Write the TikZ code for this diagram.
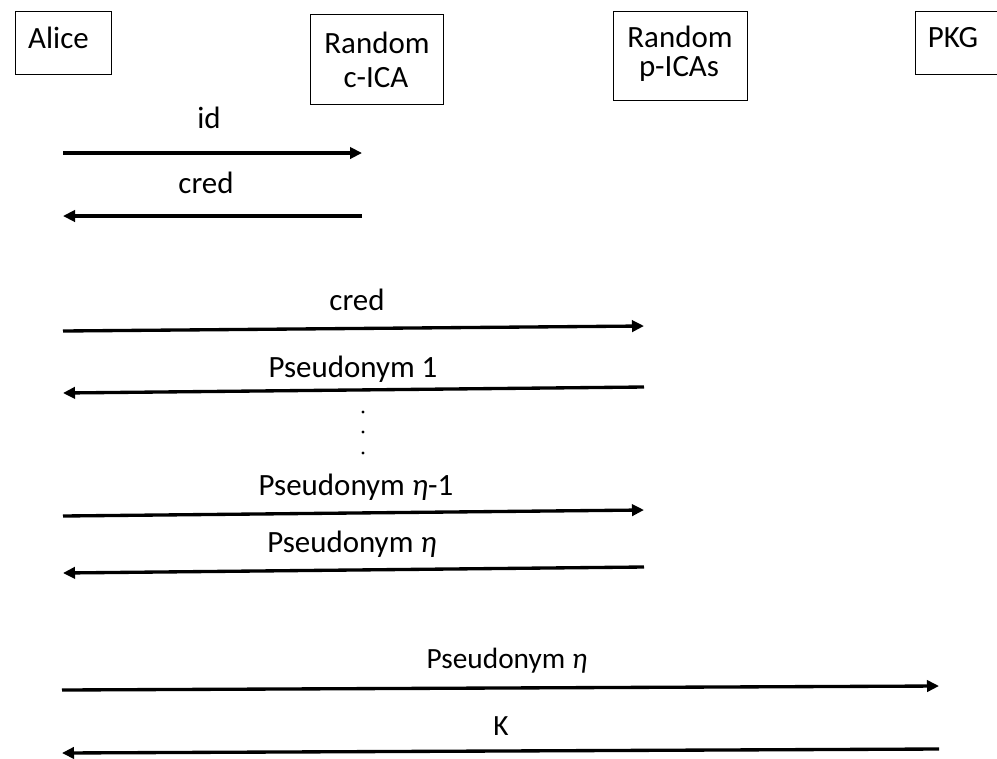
\documentclass[tikz,border=0pt]{standalone}
\usepackage{fontspec}
\setmainfont{Carlito}
\usetikzlibrary{arrows.meta}
\begin{document}
\begin{tikzpicture}[x=0.75pt,y=-0.75pt,
  box/.style={draw, line width=0.75pt, inner sep=0pt},
  lbl/.style={anchor=base, inner sep=0pt, font=\fontsize{23.2pt}{28pt}\selectfont},
  lblsmall/.style={lbl, font=\fontsize{22pt}{26pt}\selectfont},
  msg/.style={line width=2.5pt, -{Triangle[length=9pt,width=8.5pt]}},
  dot/.style={circle, fill, inner sep=0pt, minimum size=2.4pt},
]
\clip (0,0) rectangle (997,758);
\fill[white] (0,0) rectangle (997,758);

% participants
\node[box, minimum width=72pt, minimum height=47.25pt] (alice) at (63,42.5) {};
\node[box, minimum width=99.75pt, minimum height=67.5pt] (cica) at (376.5,59) {};
\node[box, minimum width=100.5pt, minimum height=66.75pt] (pica) at (680,55.5) {};
\node[box, minimum width=72pt, minimum height=47.25pt] (pkg) at (963,42.5) {};

\node[lbl] (talice) at (58.5,48) {Alice};
\node[lbl] (tcica1) at (377,53) {Random};
\node[lbl] (tcica2) at (376,87) {c-ICA};
\node[lbl] (tpica1) at (680,47) {Random};
\node[lbl] (tpica2) at (679,76) {p-ICAs};
\node[lbl] (tpkg) at (953,47) {PKG};

% message end points
\coordinate (a1) at (63,153);   \coordinate (c1) at (362,153);
\coordinate (c2) at (362,216);  \coordinate (a2) at (63,216);
\coordinate (a3) at (63,331);   \coordinate (p3) at (644,326);
\coordinate (p4) at (644,387);  \coordinate (a4) at (63,393);
\coordinate (a5) at (63,516);   \coordinate (p5) at (644,510);
\coordinate (p6) at (644,567);  \coordinate (a6) at (63,573);
\coordinate (a7) at (62,690);   \coordinate (k7) at (939,686);
\coordinate (k8) at (939,749);  \coordinate (a8) at (62,753);

% messages
\draw[msg] (a1) -- (c1);
\draw[msg] (c2) -- (a2);
\draw[msg] (a3) -- (p3);
\draw[msg] (p4) -- (a4);
\draw[msg] (a5) -- (p5);
\draw[msg] (p6) -- (a6);
\draw[msg] (a7) -- (k7);
\draw[msg] (k8) -- (a8);

% message labels
\node[lbl] (l1) at (209,128) {id};
\node[lbl] (l2) at (206,193) {cred};
\node[lbl] (l3) at (357,310) {cred};
\node[lbl] (l4) at (353,377) {Pseudonym 1};
\node[lbl] (l5) at (356,495) {Pseudonym \textit{η}-1};
\node[lbl] (l6) at (352,552) {Pseudonym \textit{η}};
\node[lblsmall] (l7) at (507,668) {Pseudonym \textit{η}};
\node[lblsmall] (l8) at (501,735) {K};

% ellipsis between the pseudonym exchanges
\node[dot] (d1) at (363,412) {};
\node[dot] (d2) at (363,432) {};
\node[dot] (d3) at (363,453) {};
\end{tikzpicture}
\end{document}
